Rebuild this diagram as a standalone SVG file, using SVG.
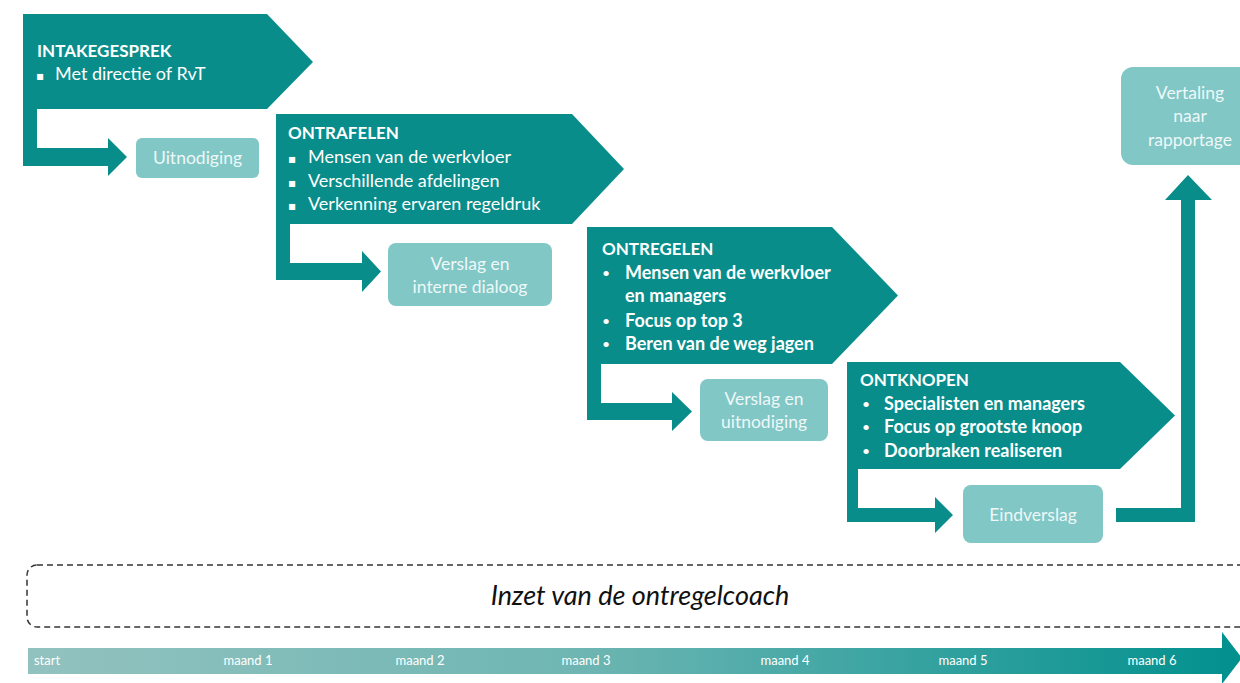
<svg xmlns="http://www.w3.org/2000/svg" width="1240" height="683" viewBox="0 0 1240 683">
<defs>
<linearGradient id="tl" x1="0" y1="0" x2="1" y2="0">
<stop offset="0" stop-color="#92c2bf"/>
<stop offset="0.45" stop-color="#6fb6b3"/>
<stop offset="1" stop-color="#00908e"/>
</linearGradient>
<style>
.phase{fill:#098d8b}
.conn{fill:#098d8b}
.box{fill:#80c7c6}
.title{font-family:Lato,"Liberation Sans",sans-serif;font-weight:bold;font-size:17px;fill:#ffffff}
.item{font-family:Lato,"Liberation Sans",sans-serif;font-size:18px;fill:#ffffff}
.itemb{font-family:Lato,"Liberation Sans",sans-serif;font-weight:bold;font-size:18px;fill:#ffffff}
.dot{font-family:Lato,"Liberation Sans",sans-serif;font-size:14px;fill:#ffffff}
.sq{font-family:"DejaVu Sans",sans-serif;font-size:12px;fill:#ffffff}
.boxt{font-family:Lato,"Liberation Sans",sans-serif;font-size:17.5px;fill:#eef8f8;text-anchor:middle}
.tick{font-family:Lato,"Liberation Sans",sans-serif;font-size:13px;fill:#ffffff;text-anchor:middle}
.coach{font-family:Lato,"Liberation Sans",sans-serif;font-style:italic;font-size:27px;fill:#111111;text-anchor:middle}
</style>
</defs>
<rect width="1240" height="683" fill="#ffffff"/>

<g id="connectors">
<polygon class="conn" points="23,109 37,109 37,148 108,148 108,138 127,157 108,176 108,166 23,166"/>
<polygon class="conn" points="276,224 290,224 290,263 362,263 362,251 381,271.5 362,292 362,280 276,280"/>
<polygon class="conn" points="587,364 601,364 601,403 672,403 672,392 692,411.5 672,431 672,420 587,420"/>
<polygon class="conn" points="847,469 858,469 858,508 935,508 935,497 953,515 935,533 935,522 847,522"/>
<polygon class="conn" points="1116,508 1181,508 1181,200 1165,200 1188,175 1212,200 1195,200 1195,522 1116,522"/>
</g>

<g id="intakegesprek">
<polygon class="phase" points="23,14 267,14 313,62 267,109 23,109"/>
<text class="title" x="37" y="57">INTAKEGESPREK</text>
<text class="sq" x="36" y="80">▪</text>
<text class="item" x="55" y="80">Met directie of RvT</text>
</g>

<g id="uitnodiging">
<rect class="box" x="136" y="138" width="123" height="40" rx="6"/>
<text class="boxt" x="197.5" y="164">Uitnodiging</text>
</g>

<g id="ontrafelen">
<polygon class="phase" points="276,114 572,114 624,169 572,224 276,224"/>
<text class="title" x="288" y="139">ONTRAFELEN</text>
<text class="sq" x="288" y="163">▪</text>
<text class="item" x="308" y="163">Mensen van de werkvloer</text>
<text class="sq" x="288" y="187">▪</text>
<text class="item" x="308" y="187">Verschillende afdelingen</text>
<text class="sq" x="288" y="210">▪</text>
<text class="item" x="308" y="210">Verkenning ervaren regeldruk</text>
</g>

<g id="verslag-interne-dialoog">
<rect class="box" x="388" y="243" width="164" height="63" rx="8"/>
<text class="boxt" x="470" y="270">Verslag en</text>
<text class="boxt" x="470" y="293">interne dialoog</text>
</g>

<g id="ontregelen">
<polygon class="phase" points="587,227 832,227 898,295.5 832,364 587,364"/>
<text class="title" x="602" y="255">ONTREGELEN</text>
<text class="dot" x="602" y="278">•</text>
<text class="itemb" x="625" y="279">Mensen van de werkvloer</text>
<text class="itemb" x="625" y="302">en managers</text>
<text class="dot" x="602" y="326">•</text>
<text class="itemb" x="625" y="327">Focus op top 3</text>
<text class="dot" x="602" y="349">•</text>
<text class="itemb" x="625" y="350">Beren van de weg jagen</text>
</g>

<g id="verslag-uitnodiging">
<rect class="box" x="700" y="379" width="128" height="62" rx="8"/>
<text class="boxt" x="764" y="405">Verslag en</text>
<text class="boxt" x="764" y="428">uitnodiging</text>
</g>

<g id="ontknopen">
<polygon class="phase" points="847,362 1120,362 1175,415.5 1120,469 847,469"/>
<text class="title" x="860" y="386">ONTKNOPEN</text>
<text class="dot" x="862" y="409">•</text>
<text class="itemb" x="884" y="410">Specialisten en managers</text>
<text class="dot" x="862" y="432">•</text>
<text class="itemb" x="884" y="433">Focus op grootste knoop</text>
<text class="dot" x="862" y="456">•</text>
<text class="itemb" x="884" y="457">Doorbraken realiseren</text>
</g>

<g id="eindverslag">
<rect class="box" x="963" y="485" width="140" height="58" rx="8"/>
<text class="boxt" x="1033" y="521">Eindverslag</text>
</g>

<g id="vertaling-rapportage">
<rect class="box" x="1121" y="67" width="140" height="98" rx="12"/>
<text class="boxt" x="1190" y="99">Vertaling</text>
<text class="boxt" x="1190" y="122">naar</text>
<text class="boxt" x="1190" y="146">rapportage</text>
</g>

<g id="ontregelcoach">
<rect x="27" y="565" width="1240" height="62" rx="10" fill="none" stroke="#333333" stroke-width="1.5" stroke-dasharray="6 4"/>
<text class="coach" x="640" y="605">Inzet van de ontregelcoach</text>
</g>

<g id="timeline">
<polygon fill="url(#tl)" points="28,648 1222,648 1222,632 1242,658 1222,684 1222,674 28,674"/>
<text class="tick" x="47" y="665">start</text>
<text class="tick" x="248" y="665">maand 1</text>
<text class="tick" x="420" y="665">maand 2</text>
<text class="tick" x="586" y="665">maand 3</text>
<text class="tick" x="785" y="665">maand 4</text>
<text class="tick" x="963" y="665">maand 5</text>
<text class="tick" x="1152" y="665">maand 6</text>
</g>
</svg>
